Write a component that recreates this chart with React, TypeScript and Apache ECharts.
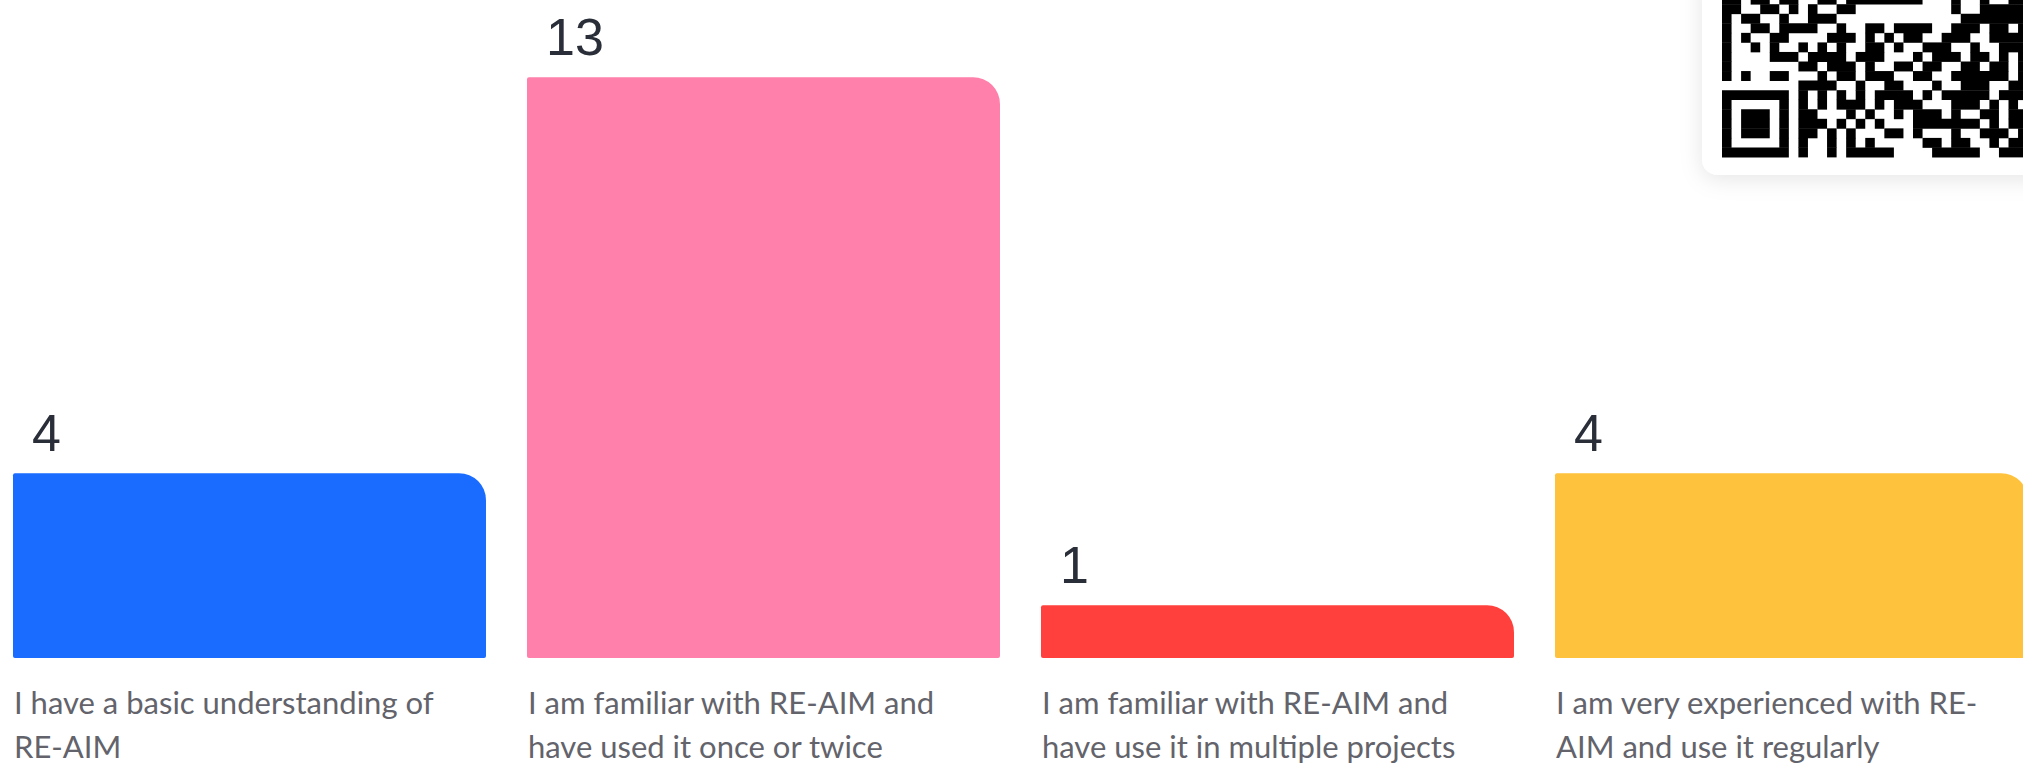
import React, { useEffect, useRef } from "react";
import * as echarts from "echarts";

const CATEGORIES = [
  "I have a basic understanding of\nRE-AIM",
  "I am familiar with RE-AIM and\nhave used it once or twice",
  "I am familiar with RE-AIM and\nhave use it in multiple projects",
  "I am very experienced with RE-\nAIM and use it regularly",
];
const VALUES = [4, 13, 1, 4];
const COLORS = ["#196CFF", "#FF80AB", "#FF403D", "#FFC23D"];
const Y_MIN = -0.2;
const Y_MAX = 14;
const X_MIN = -0.4854;
const X_MAX = 3.4504;

const QR_ROWS = [
  "11011011001101111111100010010011",
  "11001101010011000000000010011111",
  "10110010011100000000000001111111",
  "10011011110010011011110011101101",
  "10100110000111010101100111001111",
  "10010100101010011010011100100111",
  "10000111011110111000101110110101",
  "10000000110111010011011001101101",
  "10100110001011011100110011111101",
  "00000000111100100110001001110011",
  "11111110101010101111010111110111",
  "10000010101011101011100011101010",
  "10111010110001010010111010011011",
  "10111010111010101000111111101011",
  "10111010110101000110100010011101",
  "10000010100101010000011011001011",
  "11111110100101111100001111100111",
];

const BAR_RATIO = 473 / 514;

export default function App() {
  const ref = useRef<HTMLDivElement>(null);
  useEffect(() => {
    document.body.style.margin = "0";
    const chart = echarts.init(ref.current!, null, { renderer: "svg" });

    const MOD = 9.55;
    const QR_LEFT = 1722;
    const QR_BOTTOM = 157;
    const qrRects: any[] = [];
    const nRows = QR_ROWS.length;
    QR_ROWS.forEach((row, ri) => {
      const y = QR_BOTTOM - (nRows - ri) * MOD;
      let c = 0;
      while (c < row.length) {
        if (row[c] === "1") {
          const s = c;
          while (c < row.length && row[c] === "1") c++;
          qrRects.push({
            type: "rect",
            shape: { x: QR_LEFT + s * MOD, y, width: (c - s) * MOD, height: MOD + 0.4 },
            style: { fill: "#000000" },
            z: 20,
          });
        } else c++;
      }
    });

    chart.setOption({
      animation: false,
      backgroundColor: "#ffffff",
      grid: { left: 0, right: 0, top: 33.2, bottom: 105 },
      xAxis: {
        type: "value",
        min: X_MIN,
        max: X_MAX,
        show: false,
        splitLine: { show: false },
      },
      yAxis: {
        type: "value",
        min: Y_MIN,
        max: Y_MAX,
        show: false,
        splitLine: { show: false },
      },
      graphic: [
        {
          type: "rect",
          shape: { x: 1702, y: -30, width: 400, height: 205, r: 16 },
          style: {
            fill: "#ffffff",
            shadowBlur: 22,
            shadowColor: "rgba(0,0,0,0.10)",
            shadowOffsetY: 4,
          },
          z: 10,
        },
        ...qrRects,
      ],
      series: [
        {
          type: "custom",
          data: VALUES.map((v, i) => [i, v]),
          encode: { x: 0, y: 1 },
          clip: false,
          renderItem: (params: any, api: any) => {
            const idx = api.value(0);
            const v = api.value(1);
            const top = api.coord([idx, v]);
            const base = api.coord([idx, Y_MIN]);
            const bandW = api.size([1, 0])[0];
            const w = bandW * BAR_RATIO;
            const x0 = top[0] - w / 2;
            return {
              type: "group",
              children: [
                {
                  type: "rect",
                  shape: { x: x0, y: top[1], width: w, height: base[1] - top[1], r: [2, 27, 2, 2] },
                  style: { fill: COLORS[idx] },
                },
                {
                  type: "text",
                  x: x0 + 19,
                  y: top[1] - 40,
                  style: {
                    text: String(v),
                    fill: "#292e38",
                    fontFamily: "Liberation Sans",
                    fontSize: 52,
                    fontWeight: "normal",
                    align: "left",
                    verticalAlign: "middle",
                  },
                },
                {
                  type: "text",
                  x: x0 + 1,
                  y: base[1] + 22,
                  style: {
                    text: CATEGORIES[idx],
                    fill: "#63636b",
                    fontFamily: "Lato",
                    fontSize: 31,
                    lineHeight: 44,
                    align: "left",
                    verticalAlign: "top",
                  },
                },
              ],
            };
          },
        },
      ],
    });
    return () => chart.dispose();
  }, []);
  return <div ref={ref} style={{ width: 2023, height: 763 }} />;
}
